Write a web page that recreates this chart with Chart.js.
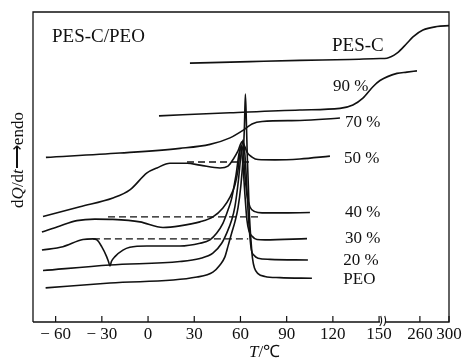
<!DOCTYPE html>
<html><head><meta charset="utf-8">
<script src="https://cdn.jsdelivr.net/npm/chart.js@4.4.1/dist/chart.umd.min.js"></script>
<style>html,body{margin:0;padding:0;background:#fff}</style>
</head><body>
<canvas id="c" width="467" height="360"></canvas>
<script>
// ---- axis (broken temperature axis, °C) ----
const tickTemps  = [-60, -30, 0, 30, 60, 90, 120, 150, 260, 300];
const tickLabels = ['− 60', '− 30', '0', '30', '60', '90', '120', '150', '260', '300'];

// ---- DSC curves: [temperature °C, heat flow (arbitrary, endo up)] ----
const curvePESC = [[27.2,83.5],[66.2,84.0],[98.6,84.4],[131.0,84.7],[150.6,85.0],[214.7,85.1],[228.5,86.7],[242.2,89.9],[250.5,92.0],[264.2,94.2],[283.5,95.3],[300,95.6]];
const curve90 = [[7.1,66.5],[53.2,67.5],[98.6,68.4],[124.6,68.9],[133.0,70.0],[139.5,72.2],[146.0,75.9],[150.6,77.9],[228.5,80.2],[242.2,80.6],[256.0,81.0]];
const curve70 = [[-66.3,53.1],[-18.2,54.5],[20.7,56.0],[40.2,57.3],[53.2,59.4],[61.6,61.8],[67.5,63.9],[74.0,64.7],[98.6,65.0],[124.6,65.8]];
const curve50 = [[-68.2,34.0],[-44.2,37.2],[-22.8,40.0],[-11.8,42.6],[-0.7,48.1],[5.8,49.7],[14.2,51.2],[25.3,51.2],[33.7,50.6],[46.7,49.7],[51.9,50.3],[55.8,52.9],[58.4,55.2],[61.0,58.1],[62.9,56.5],[64.2,54.8],[67.5,53.2],[71.4,52.4],[82.4,52.3],[98.6,52.6],[118.1,53.5]];
const curve40 = [[-68.9,29.0],[-57.2,31.0],[-46.2,32.7],[-34.5,33.2],[-22.8,33.1],[-5.3,32.3],[9.7,30.5],[20.7,31.0],[33.7,32.3],[42.1,33.9],[48.6,36.8],[53.2,40.3],[56.4,44.2],[58.4,49.0],[60.3,56.8],[61.6,55.5],[62.9,47.4],[64.2,41.0],[66.2,37.1],[69.4,35.6],[74.0,35.2],[85.6,35.2],[105.1,35.3]];
const curve30 = [[-68.9,23.2],[-55.3,24.3],[-42.3,26.6],[-35.8,26.8],[-33.2,26.5],[-30.1,24.3],[-26.9,21.1],[-25.7,19.5],[-24.7,18.1],[-23.8,19.5],[-21.5,21.1],[-16.3,23.2],[-11.8,24.1],[-0.7,24.5],[20.7,24.5],[33.7,25.4],[40.2,26.5],[44.5,28.6],[48.6,31.8],[51.9,36.1],[54.3,39.9],[57.1,47.4],[60.0,56.1],[61.6,50.6],[62.9,41.0],[64.2,32.9],[65.5,29.4],[67.5,27.7],[70.7,26.6],[75.9,26.5],[103.2,26.9]];
const curve20 = [[-68.2,16.6],[-24.7,18.4],[20.7,19.5],[33.7,20.5],[42.1,22.2],[47.8,25.4],[51.0,28.6],[54.3,32.9],[56.4,37.2],[58.7,45.8],[60.3,53.9],[61.6,58.7],[62.9,53.9],[63.9,45.8],[64.9,36.1],[66.2,27.1],[67.1,23.2],[68.8,21.5],[71.4,20.6],[79.2,20.2],[103.8,20.0]];
const curvePEO = [[-66.5,11.0],[-24.7,12.6],[31.8,14.5],[42.1,16.1],[46.7,18.4],[49.9,21.0],[52.1,24.8],[54.3,28.7],[56.4,32.3],[58.4,36.8],[60.3,44.2],[61.8,53.9],[62.6,63.5],[63.2,73.5],[63.9,63.5],[64.4,53.9],[65.1,44.2],[65.8,34.5],[66.8,26.5],[67.8,20.6],[69.1,17.4],[71.4,15.6],[75.9,14.7],[85.6,14.3],[106.4,14.1]];
// extrapolated baselines (dashed)
const base50 = [[25.3,51.6],[66.2,51.6]];
const base40 = [[-26.0,33.9],[74.0,33.9]];
const base30 = [[-35.8,26.8],[65.0,26.8]];

const curveLabels = ['PES-C', '90 %', '70 %', '50 %', '40 %', '30 %', '20 %', 'PEO'];
const panelTitle = 'PES-C/PEO';

// ---- broken-axis mapping: left part 1:1, right part (>=210 °C) compressed ----
const LEFT_END = 155, RIGHT_T0 = 260, RIGHT_U0 = 176.5, RIGHT_K = 0.4725, BREAK_U = 152.5;
function toAxis(t){ return t <= LEFT_END ? t : RIGHT_U0 + (t - RIGHT_T0) * RIGHT_K; }
const XMIN = -74.7, XMAX = 195.4;

const INK = '#111';
const SERIF = "'Liberation Serif','Times New Roman',serif";

function solid(arr){
  return { data: arr.map(([t,v]) => ({x: toAxis(t), y: v})), borderColor: INK, borderWidth: 1.6,
           pointRadius: 0, fill: false, cubicInterpolationMode: 'monotone' };
}
function dashed(arr){
  return { data: arr.map(([t,v]) => ({x: toAxis(t), y: v})), borderColor: INK, borderWidth: 1.4,
           borderDash: [7,4], pointRadius: 0, fill: false, tension: 0 };
}

const labelPos = [[332,51],[333,90.7],[345,126.7],[344,162.7],[345,217.3],[345,243.3],[343.3,265],[343.3,284]];

const decor = {
  id: 'decor',
  afterDraw(chart){
    const {ctx, chartArea: a, scales: {x}} = chart;
    ctx.save();
    ctx.strokeStyle = INK; ctx.lineWidth = 1.3;
    const bx = x.getPixelForValue(BREAK_U);
    ctx.beginPath();
    ctx.moveTo(a.left, a.bottom); ctx.lineTo(a.left, a.top); ctx.lineTo(a.right, a.top); ctx.lineTo(a.right, a.bottom);
    ctx.lineTo(bx + 3, a.bottom);
    ctx.moveTo(bx - 3, a.bottom); ctx.lineTo(a.left, a.bottom);
    ctx.stroke();
    // break marks
    ctx.lineWidth = 1.1;
    for (const dx of [-2.2, 1.8]) {
      ctx.beginPath();
      ctx.moveTo(bx + dx - 1, a.bottom + 4);
      ctx.quadraticCurveTo(bx + dx + 2.2, a.bottom, bx + dx, a.bottom - 6);
      ctx.stroke();
    }
    // inward tick marks
    ctx.lineWidth = 1.2;
    x.ticks.forEach(t => {
      const p = x.getPixelForValue(t.value);
      ctx.beginPath(); ctx.moveTo(p, a.bottom); ctx.lineTo(p, a.bottom - 6); ctx.stroke();
    });
    // texts
    ctx.fillStyle = INK; ctx.textBaseline = 'alphabetic'; ctx.textAlign = 'left';
    ctx.font = '19px ' + SERIF;
    ctx.fillText(panelTitle, 52, 41.5);
    curveLabels.forEach((s, i) => {
      ctx.font = (i === 0 ? '19px ' : '17px ') + SERIF;
      ctx.fillText(s, labelPos[i][0], labelPos[i][1]);
    });
    // x title  T/℃
    ctx.font = 'italic 17px ' + SERIF;
    ctx.textBaseline = 'middle';
    let xx = 249;
    ctx.fillText('T', xx, 352.5); xx += ctx.measureText('T').width;
    ctx.font = '17px ' + SERIF;
    ctx.fillText('/℃', xx, 352.5);
    // y title  dQ/dt→endo (rotated)
    const parts = [['d',''],['Q','italic '],['/d',''],['t','italic '],['⟶',''],['endo','']];
    ctx.save();
    ctx.translate(18.5, 160);
    ctx.rotate(-Math.PI/2);
    let total = 0;
    parts.forEach(([s,st]) => { ctx.font = st + '17px ' + SERIF; total += ctx.measureText(s).width; });
    let px = -total/2;
    parts.forEach(([s,st]) => { ctx.font = st + '17px ' + SERIF; ctx.fillText(s, px, 0); px += ctx.measureText(s).width; });
    ctx.restore();
    ctx.restore();
  }
};

new Chart(document.getElementById('c'), {
  type: 'line',
  data: { datasets: [
    solid(curvePESC), solid(curve90), solid(curve70), solid(curve50),
    solid(curve40), solid(curve30), solid(curve20), solid(curvePEO),
    dashed(base50), dashed(base40), dashed(base30)
  ]},
  options: {
    responsive: false, animation: false,
    layout: { padding: { left: 33, top: 12, right: 18, bottom: 0 } },
    plugins: { legend: { display: false }, tooltip: { enabled: false } },
    scales: {
      x: { type: 'linear', min: XMIN, max: XMAX,
           grid: { display: false, drawTicks: false }, border: { display: false },
           afterBuildTicks: s => { s.ticks = tickTemps.map(t => ({ value: toAxis(t) })); },
           afterFit: s => { s.height = 38; },
           ticks: { autoSkip: false, maxRotation: 0, minRotation: 0, padding: 2, color: INK,
                    font: { family: SERIF, size: 17 }, callback: (v, i) => tickLabels[i] } },
      y: { display: false, min: 0, max: 100 }
    }
  },
  plugins: [decor]
});
</script>
</body></html>
